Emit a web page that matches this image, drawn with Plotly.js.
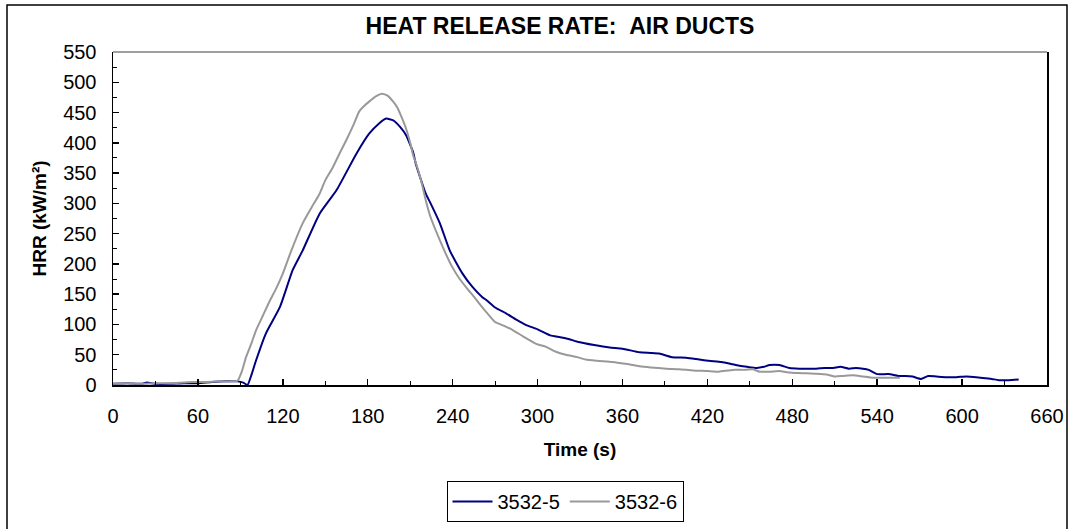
<!DOCTYPE html>
<html>
<head>
<meta charset="utf-8">
<script src="https://cdn.plot.ly/plotly-3.0.1.min.js"></script>
<style>
  html, body { margin: 0; padding: 0; background: #fff; }
  #chart { width: 1069px; height: 529px; }
</style>
</head>
<body>
<div id="chart"></div>
<script>
// Series 3532-5 (time s, HRR kW/m²)
const t5 = [0,10,20,24,30,40,50,60,70,80,88,92,95,98,101,108,118,127,134,146,158,172,181,188,193,198,203,207,212,214,221,224,231,238,247,254,261,264,270,278,285,292,300,309,316,322,329,340,351,360,372,380,386,395,405,412,421,430,440,448,455,460,464,471,478,485,492,497,503,509,514,520,525,530,534,540,548,555,560,565,571,576,582,589,596,603,610,617,621,626,633,640];
const hrr5 = [2,3,2,4,2,2,3,3,5,6,6,4,0,18,40,85,129,190,222,283,322,382,415,432,440,437,426,413,385,365,316,302,267,222,184,162,145,140,128,118,108,99,92,82,79,76,71,66,62,60,54,53,52,46,45,43,40,38,33,30,28,30,33,33,28,27,27,27,28,28,30,27,28,27,25,18,18,15,15,14,10,15,14,13,13,14,13,11,10,8,8,9];

// Series 3532-6
const t6 = [0,10,20,30,40,50,56,65,75,84,88,91,94,98,101,106,111,115,120,126,134,140,146,150,155,160,165,170,174,178,181,186,190,194,198,201,204,207,210,212,214,218,221,224,231,239,245,250,255,259,265,270,276,283,290,299,306,313,320,328,334,342,353,362,372,380,391,400,410,420,428,435,440,447,452,457,464,471,476,482,487,493,500,505,510,516,523,530,537,545,550,556];
const hrr6 = [2,3,2,3,3,4,5,5,6,6,7,22,46,70,90,115,140,158,184,222,267,292,316,338,358,382,405,430,452,462,468,477,481,478,468,458,442,424,400,380,367,335,305,280,239,198,175,160,146,134,117,104,98,90,80,68,63,55,50,46,42,40,38,35,31,29,27,26,24,23,22,24,25,25,26,22,22,23,21,20,19.5,19,18,17,14,15,16,14,12,12,12,12];

const seriesNames = ["3532-5", "3532-6"];
const xTicks = [0,60,120,180,240,300,360,420,480,540,600,660];
const yTicks = [0,50,100,150,200,250,300,350,400,450,500,550];

const FONT = "Arial, 'Liberation Sans', sans-serif";

// plot-area geometry (pixels) used to place frame shapes in paper coords
const L = 113, R = 22, T = 52, B = 144;
const W = 1069 - L - R, H = 529 - T - B;
const px = x => (x - L) / W;
const py = y => (529 - B - y) / H;

const traces = [
  { x: t5, y: hrr5, name: seriesNames[0], type: 'scatter', mode: 'lines',
    line: { color: '#000080', width: 2, shape: 'spline', smoothing: 0.5 } },
  { x: t6, y: hrr6, name: seriesNames[1], type: 'scatter', mode: 'lines',
    line: { color: '#999999', width: 2, shape: 'spline', smoothing: 0.5 } }
];

const layout = {
  width: 1069, height: 529,
  margin: { l: L, r: R, t: T, b: B, pad: 0, autoexpand: false },
  paper_bgcolor: '#ffffff', plot_bgcolor: '#ffffff',
  font: { family: FONT, color: '#000000', size: 20 },
  showlegend: true,
  title: {
    text: 'HEAT RELEASE RATE:\u00a0\u00a0AIR DUCTS',
    font: { family: FONT, size: 23, color: '#000', weight: 'bold' },
    x: px(560), xref: 'paper', xanchor: 'center',
    y: py(27), yref: 'paper', yanchor: 'middle'
  },
  xaxis: {
    range: [0, 660], tickvals: xTicks, ticktext: xTicks.map(String),
    showgrid: false, zeroline: false,
    showline: true, linecolor: '#000', linewidth: 1.5, mirror: false,
    ticks: 'inside', ticklen: 6, tickwidth: 1.5, tickcolor: '#000',
    minor: { dtick: 30, tick0: 0, ticks: 'inside', ticklen: 4, tickwidth: 1, tickcolor: '#000', showgrid: false },
    tickfont: { family: FONT, size: 20 },
    ticklabelstandoff: 12,
    title: { text: 'Time (s)', font: { family: FONT, size: 19, weight: 'bold' }, standoff: 17 },
    automargin: false, fixedrange: true
  },
  yaxis: {
    range: [0, 550], tickvals: yTicks, ticktext: yTicks.map(String),
    showgrid: false, zeroline: false,
    showline: true, linecolor: '#000', linewidth: 1.5, mirror: true,
    ticks: 'inside', ticklen: 6, tickwidth: 1.5, tickcolor: '#000',
    minor: { dtick: 25, tick0: 0, ticks: 'inside', ticklen: 4, tickwidth: 1, tickcolor: '#000', showgrid: false },
    tickfont: { family: FONT, size: 20 },
    ticklabelstandoff: 11,
    title: { text: 'HRR (kW/m²)', font: { family: FONT, size: 19, weight: 'bold' }, standoff: 11 },
    automargin: false, fixedrange: true
  },
  legend: {
    orientation: 'h',
    xref: 'container', x: 565 / 1069, xanchor: 'center',
    yref: 'container', y: 1 - 481 / 529, yanchor: 'top',
    bordercolor: '#000', borderwidth: 1, bgcolor: '#fff',
    font: { family: FONT, size: 20 }, itemwidth: 40, tracegroupgap: 0
  },
  shapes: [
    // grey top edge of the plot area
    { type: 'line', xref: 'paper', yref: 'paper', x0: 0, x1: 1, y0: 1, y1: 1,
      line: { color: '#808080', width: 1.5 } },
    // outer chart-area border (bottom edge falls outside the picture)
    { type: 'path', xref: 'paper', yref: 'paper',
      path: `M ${px(7)} ${py(540)} L ${px(7)} ${py(5)} L ${px(1067)} ${py(5)} L ${px(1067)} ${py(540)}`,
      line: { color: '#000', width: 1.5 } }
  ]
};

Plotly.newPlot('chart', traces, layout, { displayModeBar: false, staticPlot: true });
</script>
</body>
</html>
